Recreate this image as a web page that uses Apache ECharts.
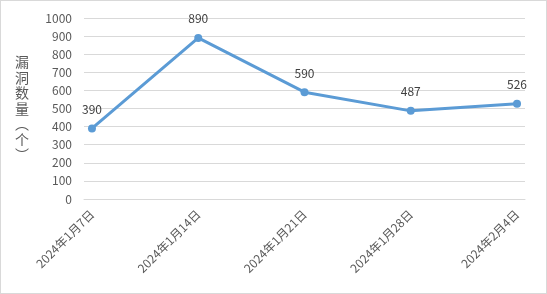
<!DOCTYPE html>
<html><head><meta charset="utf-8">
<script src="https://cdn.jsdelivr.net/npm/echarts@6/dist/echarts.min.js"></script>
<style>html,body{margin:0;padding:0;background:#fff}#c{width:545px;height:292px;border:1px solid #d9d9d9}</style>
</head><body><div id="c"></div>
<script>
const categories = ['2024年1月7日','2024年1月14日','2024年1月21日','2024年1月28日','2024年2月4日'];
const values = [390, 890, 590, 487, 526];
const yTicks = [0,100,200,300,400,500,600,700,800,900,1000];
const yName = '漏洞数量（个）';

const chart = echarts.init(document.getElementById('c'));
const font = '"Noto Sans CJK SC", "Liberation Sans", sans-serif';
const vertName = yName.replace('（','︵').replace('）','︶').split('').join('\n');
chart.setOption({
  animation: false,
  textStyle: {fontFamily: font},
  grid: {left: 83, right: 21, top: 17, bottom: 94},
  xAxis: {
    type: 'value', min: -0.075, max: categories.length - 1 + 0.075,
    axisLine: {show: true, lineStyle: {color: '#d9d9d9'}},
    axisTick: {show: false},
    splitLine: {show: false},
    axisLabel: {
      customValues: categories.map((_, i) => i),
      rotate: 45, fontSize: 12, color: '#595959', margin: 13, fontFamily: font,
      formatter: v => categories[Math.round(v)]
    }
  },
  yAxis: {
    type: 'value', min: yTicks[0], max: yTicks[yTicks.length-1], interval: 100,
    name: vertName, nameLocation: 'middle', nameRotate: 0, nameGap: 55,
    nameTextStyle: {fontSize: 14, color: '#595959', lineHeight: 15.5, fontFamily: font},
    axisLine: {show: false}, axisTick: {show: false},
    splitLine: {lineStyle: {color: '#d9d9d9'}},
    axisLabel: {fontSize: 12, color: '#595959', margin: 12, fontFamily: font, formatter: v => String(v)}
  },
  series: [{
    type: 'line',
    data: values.map((v, i) => [i, v]),
    symbol: 'circle', symbolSize: 8,
    lineStyle: {color: '#5B9BD5', width: 3},
    itemStyle: {color: '#5B9BD5'},
    label: {show: true, position: 'top', distance: 9, fontSize: 12, color: '#404040', formatter: p => p.value[1]}
  }]
});
</script></body></html>
